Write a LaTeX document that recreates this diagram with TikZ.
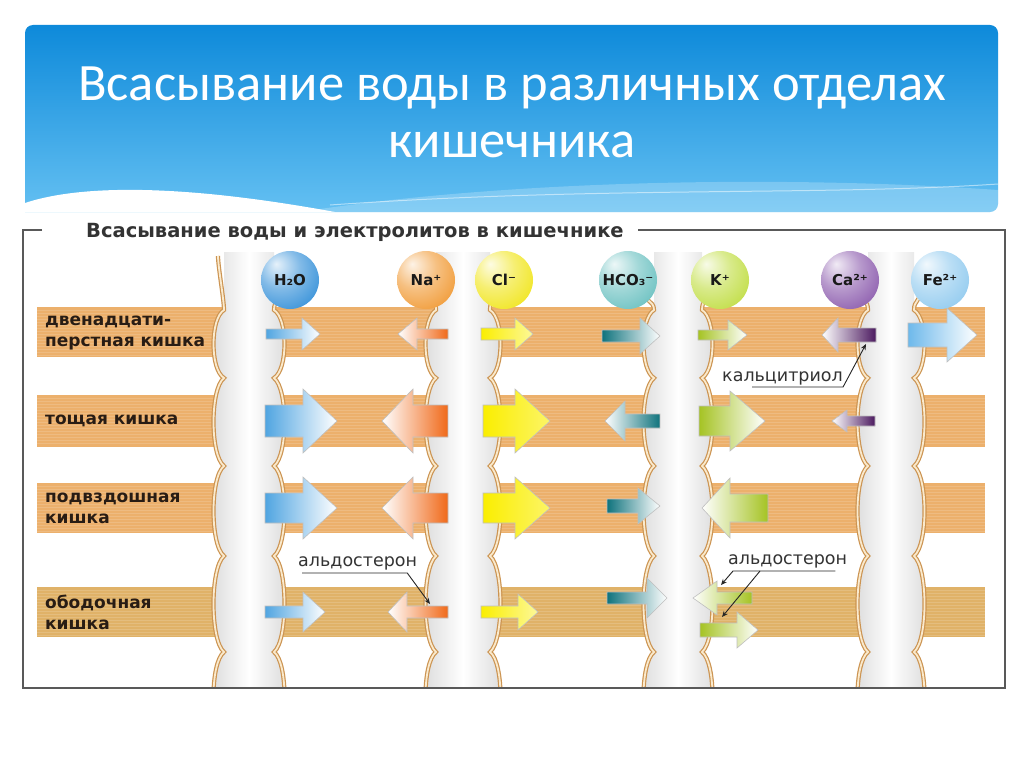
\documentclass[tikz,border=0pt]{standalone}
\usepackage{fontspec}
\setmainfont{Carlito}
\newfontfamily\figfont{DejaVu Sans}
\usetikzlibrary{arrows.meta}

\definecolor{bannertop}{RGB}{14,138,218}
\definecolor{bannerbot}{RGB}{100,192,242}
\definecolor{band}{RGB}{236,176,108}
\definecolor{bandlow}{RGB}{224,178,104}
\definecolor{membtan}{RGB}{204,148,82}
\definecolor{membcream}{RGB}{250,234,205}
\definecolor{labeltext}{RGB}{40,28,20}
\definecolor{waterblue}{RGB}{80,165,225}
\definecolor{naorange}{RGB}{240,105,25}
\definecolor{clyellow}{RGB}{250,238,0}
\definecolor{hcoteal}{RGB}{15,115,125}
\definecolor{kgreen}{RGB}{165,195,35}
\definecolor{capurple}{RGB}{75,25,95}
\definecolor{feblue}{RGB}{110,185,235}
\definecolor{waterball}{RGB}{45,140,215}
\definecolor{naball}{RGB}{240,150,45}
\definecolor{clball}{RGB}{240,228,20}
\definecolor{hcoball}{RGB}{100,190,190}
\definecolor{kball}{RGB}{190,220,60}
\definecolor{caball}{RGB}{135,85,170}
\definecolor{feball}{RGB}{140,200,238}
\colorlet{ionc}{waterball}

% sphere look of the ions
\pgfdeclareradialshading[ionc]{ionball}{\pgfpoint{-12bp}{14bp}}{%
	color(0bp)=(ionc!12!white); color(18bp)=(ionc!60!white); color(40bp)=(ionc);
	color(58bp)=(ionc!82!black); color(70bp)=(ionc!70!black)}

\tikzset{
	frame/.style={draw=black!65, line width=1.6},
	memb/.style={draw=membtan, line width=1.2, double=membcream, double distance=1.8},
	colfill/.style={left color=black!14, right color=black!14, middle color=white},
	flow/.style={draw=black!25, line width=0.6},
	ion/.style={circle, minimum size=58, inner sep=0pt, text=black!90, shade, shading=ionball,
		/utils/exec={\colorlet{ionc}{#1}},
		font=\figfont\bfseries\fontsize{15}{15}\selectfont},
	rowname/.style={anchor=west, align=left, inner sep=0pt, text=labeltext,
		font=\figfont\bfseries\fontsize{17}{21}\selectfont},
	note/.style={anchor=base west, inner sep=0pt, text=black!80,
		font=\figfont\fontsize{17.5}{20}\selectfont},
	pointer/.style={draw=black!85, line width=0.9, -{Stealth[length=6pt, width=5pt]}},
	title/.style={anchor=base, inner sep=0pt, text=white, font=\fontsize{52.5}{60}\selectfont},
}

% block arrows: tail x, tip x, y, half shaft, half head, head length, tail colour, tip colour
\newcommand{\rightflow}[8]{%
	\shadedraw[flow, left color=#7, right color=#8] (#1,#3-#4) -- (#2-#6,#3-#4) -- (#2-#6,#3-#5) -- (#2,#3)
		-- (#2-#6,#3+#5) -- (#2-#6,#3+#4) -- (#1,#3+#4) -- cycle;}
\newcommand{\leftflow}[8]{%
	\shadedraw[flow, left color=#8, right color=#7] (#1,#3-#4) -- (#2+#6,#3-#4) -- (#2+#6,#3-#5) -- (#2,#3)
		-- (#2+#6,#3+#5) -- (#2+#6,#3+#4) -- (#1,#3+#4) -- cycle;}

% grey inside of one membrane column
\newcommand{\gutcol}[2]{%
	\shade[colfill] (#1,252) -- (#1,310)
		\foreach \a/\b in {310/378,378/466,466/556,556/652,652/740}
			{.. controls ({#1-14},{\a+0.12*(\b-\a)}) and ({#1-14},{\b-0.12*(\b-\a)}) .. (#1,\b)}
		-- (#2,740)
		\foreach \a/\b in {740/652,652/556,556/466,466/378,378/310}
			{.. controls ({#2+14},{\a+0.12*(\b-\a)}) and ({#2+14},{\b-0.12*(\b-\a)}) .. (#2,\b)}
		-- (#2,252) -- cycle;}

% wavy wall: x, bulge, top x, top y
\newcommand{\wall}[4]{%
	\draw[memb] (#3,#4) .. controls (#3,#4+10) and (#1,300) .. (#1,310)
		\foreach \a/\b in {310/378,378/466,466/556,556/652,652/740}
			{.. controls ({#1+(#2)},{\a+0.12*(\b-\a)}) and ({#1+(#2)},{\b-0.12*(\b-\a)}) .. (#1,\b)};}

\begin{document}
\begin{tikzpicture}[x=1pt, y=-1pt]
	\useasboundingbox (0,0) rectangle (1024,768);
	\fill[white] (0,0) rectangle (1024,768);

	% banner
	\shade[top color=bannertop, bottom color=bannerbot] (25,212) [rounded corners=8] -- (25,25) -- (998,25) -- (998,212) [sharp corners] -- cycle;
	\fill[white, opacity=.22] (300,212) .. controls (520,178) and (800,176) .. (998,190) -- (998,212) -- cycle;
	\draw[white, opacity=.5, line width=1] (330,205) .. controls (600,186) and (820,196) .. (998,184);
	\fill[white] (25,212) -- (25,203) .. controls (70,188) and (160,180) .. (335,212) -- cycle;
	\node[title] (title1) at (512,100) {Всасывание воды в различных отделах};
	\node[title] (title2) at (512,157) {кишечника};

	% heading and frame
	\node[anchor=base west, inner sep=0pt, text=black!80, font=\figfont\bfseries\fontsize{19.5}{20}\selectfont]
		(heading) at (86,237) {Всасывание воды и электролитов в кишечнике};

	% bands
	\foreach \t/\b in {307/357,395/447,483/533}{
		\fill[band] (37,\t) rectangle (985,\b);
		\foreach \k in {1,...,16} \draw[white, opacity=.15, line width=.8] (37,\t+3*\k) -- (985,\t+3*\k);
	}
	\fill[bandlow] (37,587) rectangle (985,637);
	\foreach \k in {1,...,16} \draw[white, opacity=.15, line width=.8] (37,587+3*\k) -- (985,587+3*\k);

	\node[rowname] (duodenum) at (45,333) {двенадцати-\\перстная кишка};
	\node[rowname] (jejunum) at (45,421) {тощая кишка};
	\node[rowname] (ileum) at (45,508) {подвздошная\\кишка};
	\node[rowname] (colon) at (45,612) {ободочная\\кишка};

	% membrane columns
	\begin{scope}
		\clip (0,240) rectangle (1024,688);
		\gutcol{224}{274}
		\gutcol{436}{490}
		\gutcol{654}{702}
		\gutcol{868}{914}
		\wall{224}{-14}{218}{256}
		\wall{274}{14}{280}{292}
		\wall{436}{-14}{432}{292}
		\wall{490}{14}{494}{292}
		\wall{654}{-14}{644}{292}
		\wall{702}{14}{707}{292}
		\wall{868}{-14}{862}{292}
		\wall{914}{14}{920}{292}
	\end{scope}

	\draw[frame] (42,230) -- (23,230) -- (23,688) -- (1005,688) -- (1005,230) -- (638,230);

	% duodenum
	\rightflow{266}{320}{334}{5}{16}{18}{waterblue}{white}
	\leftflow{448}{398}{334}{5}{16}{19}{naorange}{white}
	\rightflow{481}{533}{334}{6}{16}{18}{clyellow}{clyellow!40!white}
	\rightflow{602}{660}{336}{6}{18}{20}{hcoteal}{white}
	\rightflow{698}{747}{335}{5}{15}{19}{kgreen}{white}
	\leftflow{876}{822}{335}{7}{17}{16}{capurple}{white}
	\rightflow{908}{977}{335}{12}{27}{30}{feblue}{white}
	% jejunum
	\rightflow{265}{337}{421}{16}{32}{34}{waterblue}{white}
	\leftflow{448}{382}{421}{16}{32}{31}{naorange}{white}
	\rightflow{483}{550}{421}{16}{32}{35}{clyellow}{clyellow!60!white}
	\leftflow{660}{605}{421}{7}{20}{20}{hcoteal}{white}
	\rightflow{699}{765}{421}{15}{30}{35}{kgreen}{white}
	\leftflow{875}{832}{421}{5}{11}{15}{capurple}{white}
	% ileum
	\rightflow{265}{337}{508}{15}{31}{34}{waterblue}{white}
	\leftflow{448}{382}{508}{15}{31}{31}{naorange}{white}
	\rightflow{483}{550}{508}{15}{31}{35}{clyellow}{clyellow!60!white}
	\rightflow{607}{660}{506}{7}{18}{22}{hcoteal}{white}
	\leftflow{768}{702}{508}{14}{30}{28}{kgreen}{white}
	% colon
	\rightflow{265}{325}{612}{6}{20}{22}{waterblue}{white}
	\leftflow{448}{388}{612}{6}{20}{19}{naorange}{white}
	\rightflow{481}{538}{612}{6}{18}{20}{clyellow}{clyellow!40!white}
	\rightflow{607}{667}{598}{6}{20}{20}{hcoteal}{white}
	\leftflow{752}{693}{598}{6}{17}{24}{kgreen}{white}
	\rightflow{700}{758}{630}{7}{18}{21}{kgreen}{white}

	% ions
	\node[ion=waterball] (water) at (290,280) {H₂O};
	\node[ion=naball] (sodium) at (426,280) {Na⁺};
	\node[ion=clball] (chloride) at (504,280) {Cl⁻};
	\node[ion=hcoball] (bicarb) at (628,280) {HCO₃⁻};
	\node[ion=kball] (potassium) at (720,280) {K⁺};
	\node[ion=caball] (calcium) at (850,280) {Ca²⁺};
	\node[ion=feball] (iron) at (940,280) {Fe²⁺};

	% hormones
	\node[note] (calcitriol) at (722,381) {кальцитриол};
	\coordinate (ca-in) at (866,344);
	\draw[pointer] ([xshift=30,yshift=-6]calcitriol.base west) -- ([yshift=-6]calcitriol.base east) -- (ca-in);
	\node[note] (aldoNa) at (298,566) {альдостерон};
	\coordinate (na-in) at (430,604);
	\draw[pointer] ([xshift=4,yshift=-7]aldoNa.base west) -- ([xshift=-10,yshift=-7]aldoNa.base east) -- (na-in);
	\node[note] (aldoK) at (728,564) {альдостерон};
	\coordinate (k-up) at (721,585);
	\coordinate (k-low) at (722,617);
	\draw[pointer] ([xshift=-12,yshift=-7]aldoK.base east) -- ([xshift=5,yshift=-7]aldoK.base west) -- (k-up);
	\draw[pointer] ([xshift=32,yshift=-7]aldoK.base west) -- (k-low);
\end{tikzpicture}
\end{document}
